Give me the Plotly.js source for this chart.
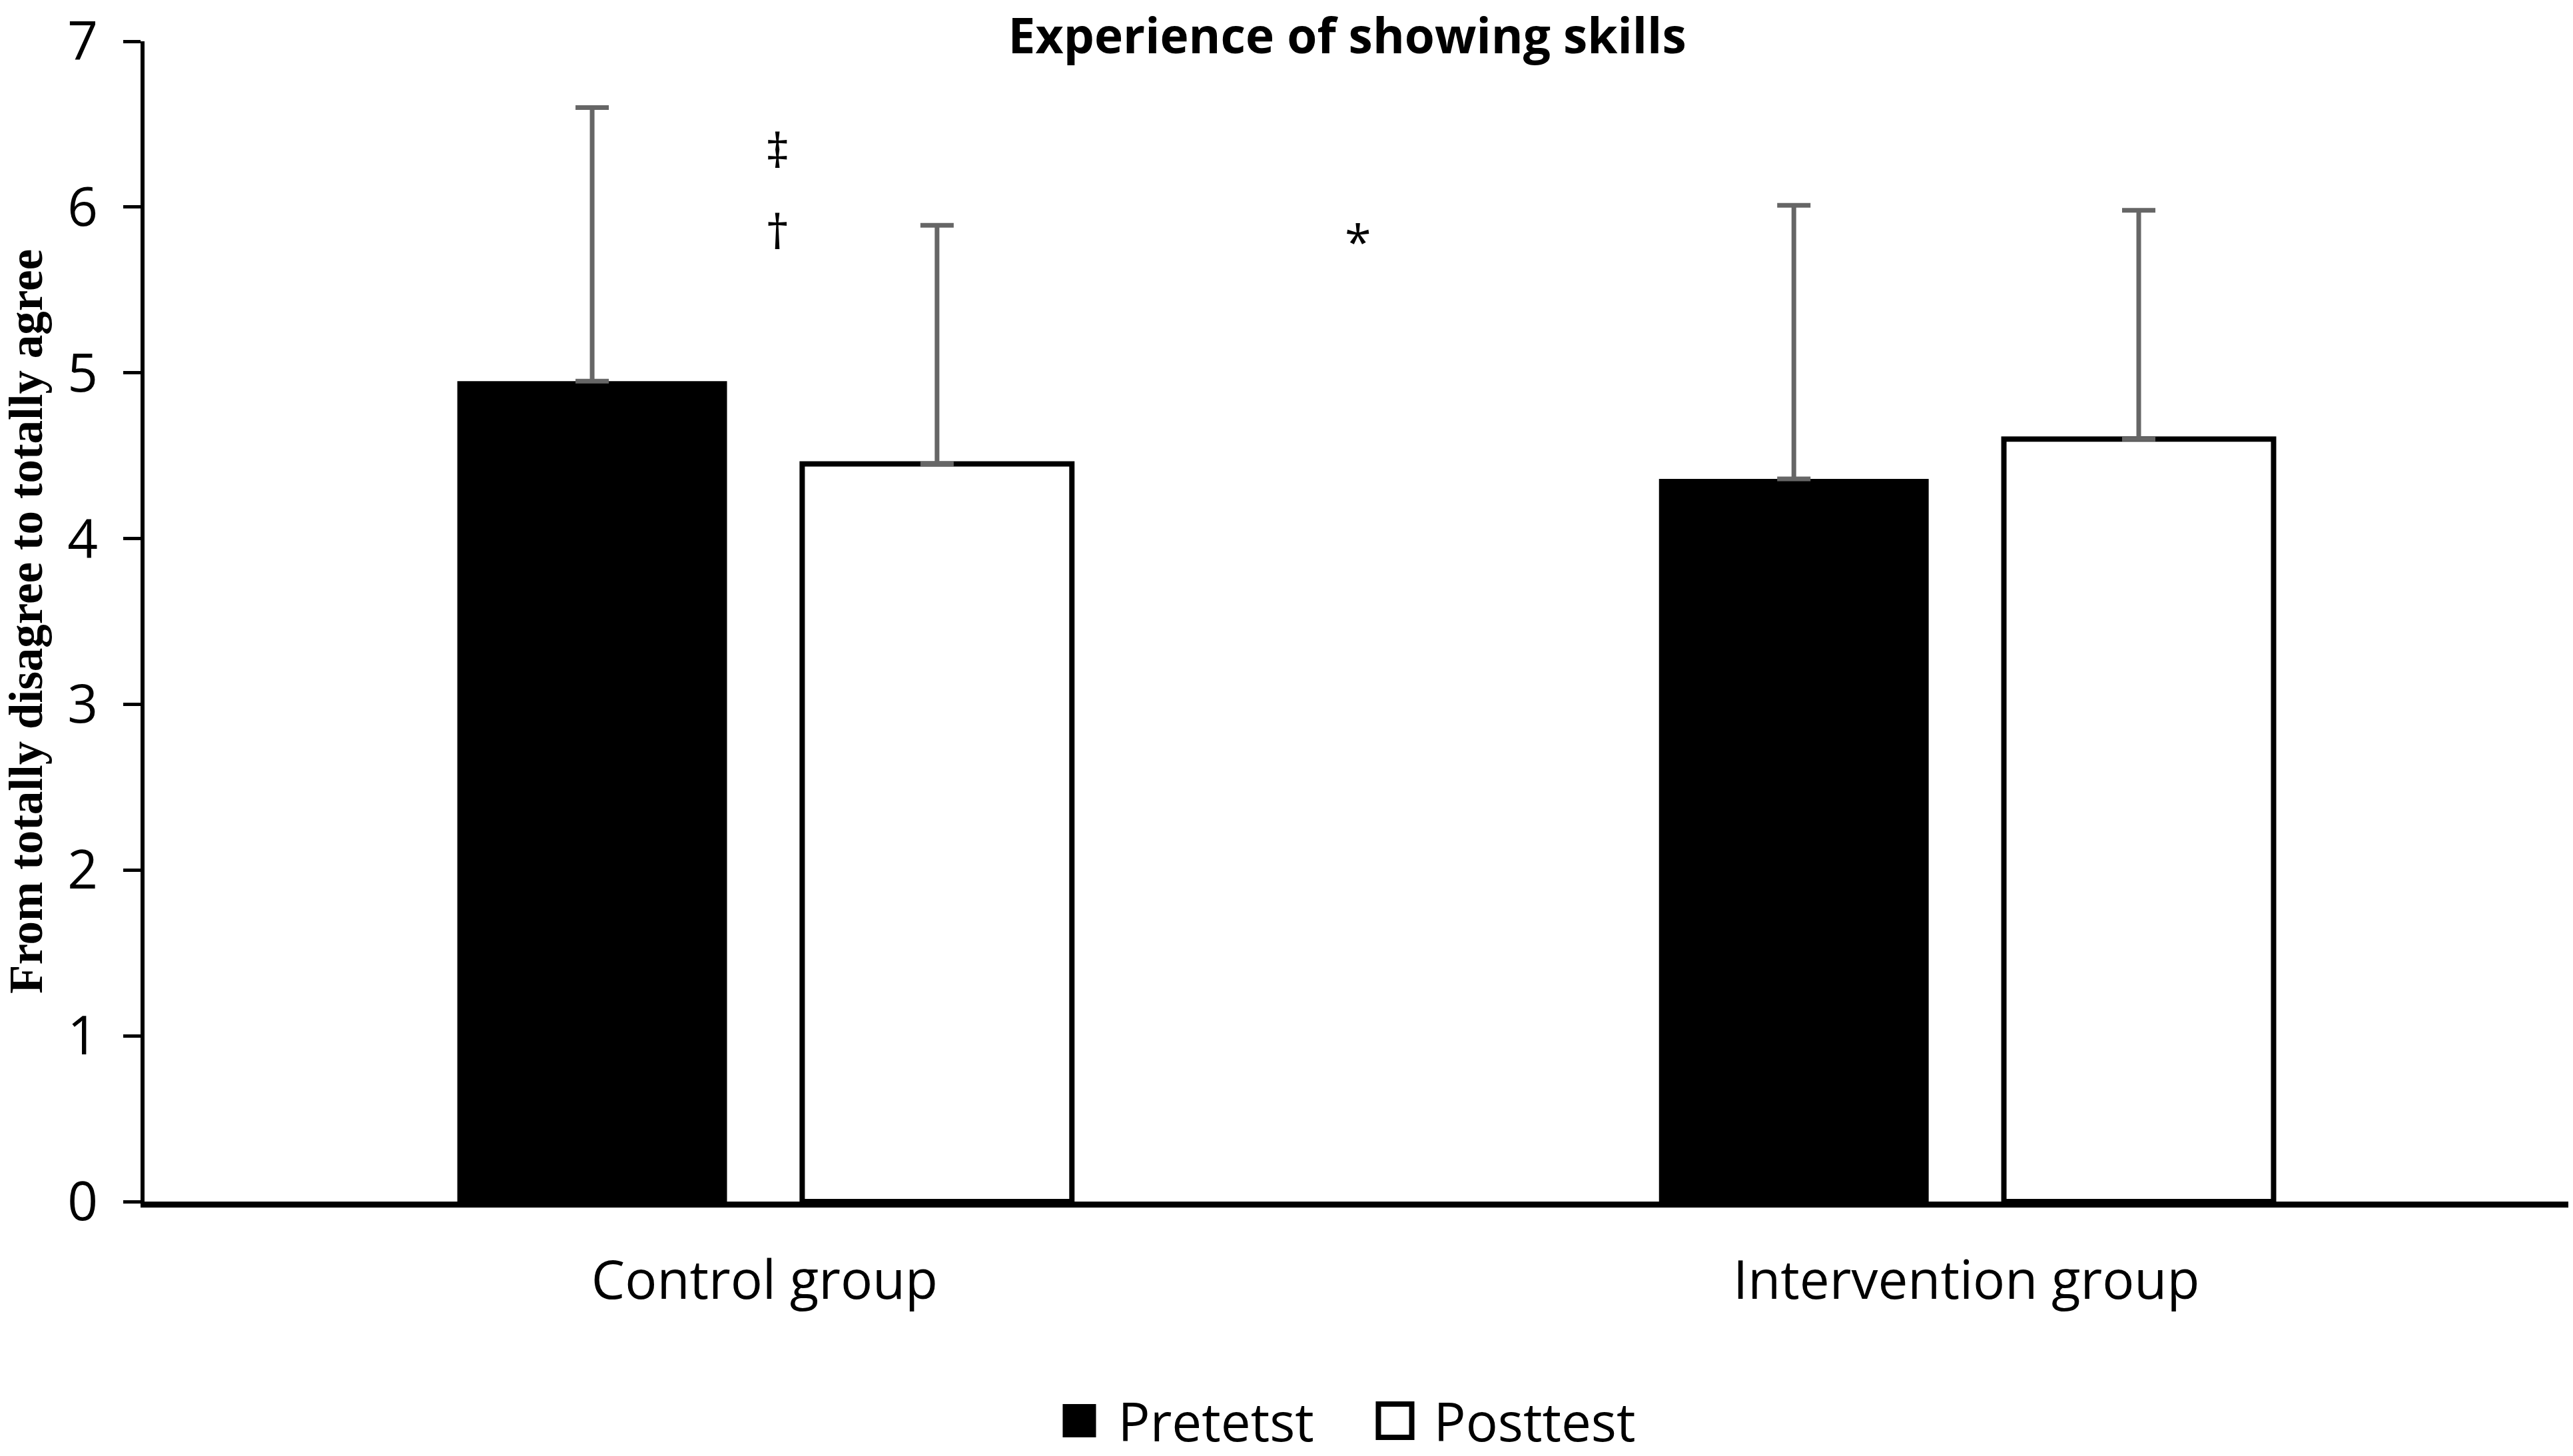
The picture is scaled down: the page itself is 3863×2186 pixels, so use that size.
<!DOCTYPE html>
<html>
<head>
<meta charset="utf-8">
<script src="https://cdn.plot.ly/plotly-3.0.1.min.js"></script>
<style>
    html, body { margin: 0; padding: 0; background: #fff; }
    #chart { width: 3863px; height: 2186px; }
    /* legend swatches are a fixed 12px in plotly, blow them up to match */
    .legend .legendpoints path {
        transform: translate(58px, 0px) scale(4.17);
        stroke-width: 1.92px !important;
    }
</style>
</head>
<body>
<div id="chart"></div>
<script>
var groups = ["Control group", "Intervention group"]
var pretest = [4.95, 4.36]
var posttest = [4.45, 4.60]
var pretestSd = [1.65, 1.65]
var posttestSd = [1.44, 1.38]
var noLowerError = [0, 0]

// significance marks drawn over the chart
var markText = ["‡", "†", "*"]
var markX = [0.011, 0.011, 0.494]
var markY = [6.35, 5.86, 5.80]

function makeMarks() {
    let arr = []
    markText.forEach((t, i) => {
        arr.push({
            x: markX[i],
            y: markY[i],
            xref: "x",
            yref: "y",
            text: t,
            showarrow: false,
            font: { size: 72, color: "#000" }
        })
    })
    return arr
}

var errStyle = { color: "#666666", thickness: 7, width: 25 }

var tracePre = {
    name: "Pretetst",
    type: "bar",
    x: groups,
    y: pretest,
    marker: { color: "#000000", line: { color: "#000000", width: 0 } },
    error_y: Object.assign({ type: "data", symmetric: false, array: pretestSd, arrayminus: noLowerError }, errStyle)
}

var tracePost = {
    name: "Posttest",
    type: "bar",
    x: groups,
    y: posttest,
    marker: { color: "#ffffff", line: { color: "#000000", width: 8 } },
    error_y: Object.assign({ type: "data", symmetric: false, array: posttestSd, arrayminus: noLowerError }, errStyle)
}

var layout = {
    width: 3863,
    height: 2186,
    margin: { l: 217, r: 7, t: 62, b: 382, pad: 0 },
    paper_bgcolor: "#ffffff",
    plot_bgcolor: "#ffffff",
    font: { family: "Open Sans, sans-serif", size: 80, color: "#000" },
    title: {
        text: "Experience of showing skills",
        font: { size: 73, weight: "bold", color: "#000" },
        xref: "container",
        x: 0.5236,
        yref: "container",
        y: 0.9753,
        yanchor: "middle"
    },
    barmode: "group",
    bargap: 0.426,
    bargroupgap: 0.218,
    showlegend: true,
    xaxis: {
        range: [-0.516, 1.501],
        showline: true,
        linecolor: "#000",
        linewidth: 9,
        ticks: "",
        showgrid: false,
        zeroline: false,
        ticklabelstandoff: 41
    },
    yaxis: {
        range: [0, 7],
        dtick: 1,
        showline: true,
        linecolor: "#000",
        linewidth: 6,
        ticks: "outside",
        ticklen: 26,
        tickwidth: 5,
        tickcolor: "#000",
        ticklabelstandoff: 22,
        showgrid: false,
        zeroline: false,
        title: {
            text: "From totally disagree to totally agree",
            standoff: 20,
            font: { family: "Liberation Serif, serif", size: 71, weight: "bold", color: "#000" }
        }
    },
    legend: {
        orientation: "h",
        xref: "paper",
        x: 0.5,
        xanchor: "center",
        yref: "container",
        y: 0.0242,
        yanchor: "middle",
        itemwidth: 106,
        entrywidth: 353,
        font: { size: 80 }
    },
    annotations: makeMarks()
}

Plotly.newPlot("chart", [tracePre, tracePost], layout, { displayModeBar: false, staticPlot: true })
</script>
</body>
</html>
